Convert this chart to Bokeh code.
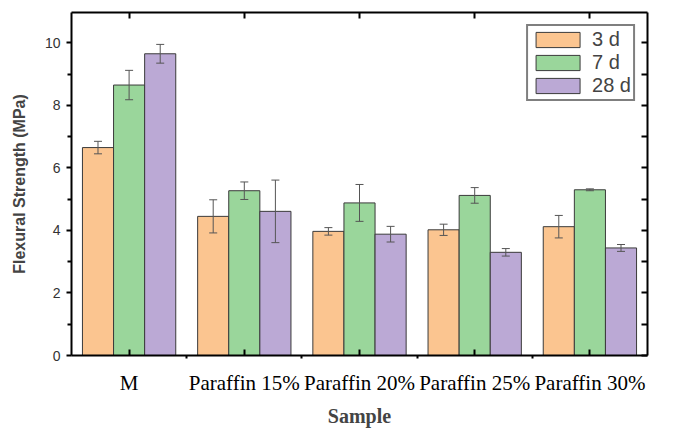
import numpy as np
from bokeh.plotting import figure
from bokeh.models import (ColumnDataSource, Whisker, TeeHead, LinearAxis, FixedTicker,
                          Range1d, Legend, LegendItem)
from bokeh.embed import file_html
from bokeh.resources import INLINE

samples = ["M", "Paraffin 15%", "Paraffin 20%", "Paraffin 25%", "Paraffin 30%"]
ages = ["3 d", "7 d", "28 d"]
s3 = [6.65, 4.45, 3.97, 4.02, 4.12]
e3 = [0.20, 0.53, 0.12, 0.18, 0.36]
s7 = [8.65, 5.27, 4.88, 5.12, 5.30]
e7 = [0.47, 0.28, 0.59, 0.25, 0.03]
s28 = [9.65, 4.61, 3.88, 3.30, 3.44]
e28 = [0.30, 1.00, 0.25, 0.12, 0.11]
y_ticks = [0, 2, 4, 6, 8, 10]
y_minor = [1, 3, 5, 7, 9]

colors = ["#FBC590", "#9AD69B", "#BBA9D5"]
series = [s3, s7, s28]
errors = [e3, e7, e28]
bar_w = 0.27
offsets = [-bar_w, 0.0, bar_w]

pos = np.arange(1, len(samples) + 1)

p = figure(width=673, height=429, output_backend="svg", toolbar_location=None,
           x_range=Range1d(0.5, len(samples) + 0.5), y_range=Range1d(0, 10.97),
           min_border_left=71, min_border_right=26, min_border_top=12, min_border_bottom=73)
p.outline_line_color = None
p.xgrid.visible = False
p.ygrid.visible = False

items = []
for vals, errs, col, off, lab in zip(series, errors, colors, offsets, ages):
    v = np.array(vals)
    e = np.array(errs)
    src = ColumnDataSource(dict(x=pos + off, top=v, upper=v + e, lower=v - e))
    r = p.vbar(x="x", top="top", width=bar_w, source=src, fill_color=col,
               line_color="#3a3a3a", line_width=1)
    w = Whisker(source=src, base="x", upper="upper", lower="lower",
                line_color="#555555", line_width=1, level="overlay",
                upper_head=TeeHead(size=8, line_color="#555555", line_width=1),
                lower_head=TeeHead(size=8, line_color="#555555", line_width=1))
    p.add_layout(w)
    items.append(LegendItem(label=lab, renderers=[r]))

xt = FixedTicker(ticks=list(pos), minor_ticks=list(pos[:-1] + 0.5))
yt = FixedTicker(ticks=y_ticks, minor_ticks=y_minor)

# bottom axis
xa = p.xaxis[0]
xa.ticker = xt
xa.major_label_overrides = {int(i): s for i, s in zip(pos, samples)}
xa.major_tick_in = 6
xa.major_tick_out = 0
xa.minor_tick_in = 0
xa.minor_tick_out = 3
xa.axis_line_width = 2
xa.axis_line_color = "black"
xa.major_tick_line_width = 2
xa.minor_tick_line_width = 2
xa.major_label_text_font = "Liberation Serif"
xa.major_label_text_font_size = "21px"
xa.major_label_text_color = "black"
xa.major_label_standoff = 12
xa.axis_label = "Sample"
xa.axis_label_text_font = "Liberation Serif"
xa.axis_label_text_font_style = "bold"
xa.axis_label_text_font_size = "20px"
xa.axis_label_standoff = 7

# left axis
ya = p.yaxis[0]
ya.ticker = yt
ya.major_tick_in = 0
ya.major_tick_out = 5
ya.minor_tick_in = 0
ya.minor_tick_out = 4
ya.axis_line_width = 2
ya.axis_line_color = "black"
ya.major_tick_line_width = 2
ya.minor_tick_line_width = 2
ya.major_label_text_font = "Liberation Sans"
ya.major_label_text_font_size = "14px"
ya.major_label_text_color = "#333333"
ya.major_label_standoff = 6
ya.axis_label = "Flexural Strength (MPa)"
ya.axis_label_text_font = "Liberation Sans"
ya.axis_label_text_font_style = "bold"
ya.axis_label_text_font_size = "16px"
ya.axis_label_standoff = 14

# top axis (ticks only, no labels)
ta = LinearAxis(ticker=FixedTicker(ticks=[], minor_ticks=list(pos)),
                minor_tick_in=6, minor_tick_out=0, axis_line_width=2, axis_line_color="black",
                minor_tick_line_width=2)
p.add_layout(ta, "above")

# right axis (ticks only, no labels)
ra = LinearAxis(ticker=FixedTicker(ticks=[], minor_ticks=sorted(y_ticks + y_minor)),
                minor_tick_in=6, minor_tick_out=0, axis_line_width=2, axis_line_color="black",
                minor_tick_line_width=2)
p.add_layout(ra, "right")

legend = Legend(items=items, location="top_right", margin=12,
                border_line_color="black", border_line_width=2,
                label_text_font="Liberation Sans", label_text_font_size="20px",
                glyph_width=55, glyph_height=19, padding=2, spacing=0,
                label_standoff=7, background_fill_alpha=1)
p.add_layout(legend, "center")

open("out.html", "w").write(file_html(p, INLINE))
